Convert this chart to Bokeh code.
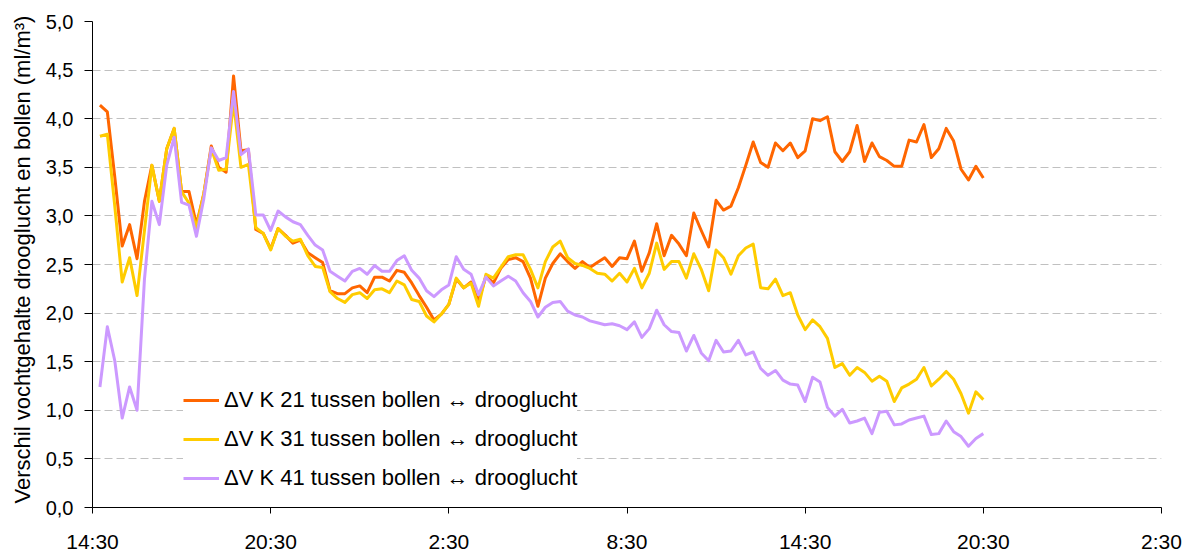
import numpy as np
from bokeh.plotting import figure
from bokeh.models import (FixedTicker, CustomJSTickFormatter, Legend, LegendItem,
                          Title, Range1d)
from bokeh.embed import file_html
from bokeh.resources import INLINE

# ---- data ----------------------------------------------------------------
# samples every 15 minutes, first sample at 14:45 (hours after 14:30)
FIRST_SAMPLE_H = 0.25
STEP_H = 0.25

k21 = [4.14, 4.07, 3.40, 2.69, 2.91, 2.56, 3.15, 3.52, 3.15, 3.69,
       3.90, 3.25, 3.25, 2.91, 3.23, 3.72, 3.50, 3.45, 4.44, 3.67,
       3.68, 2.86, 2.82, 2.66, 2.87, 2.80, 2.72, 2.75, 2.62, 2.57,
       2.52, 2.23, 2.20, 2.20, 2.26, 2.28, 2.21, 2.37, 2.37, 2.33,
       2.44, 2.42, 2.31, 2.18, 2.06, 1.93, 1.99, 2.09, 2.35, 2.26,
       2.32, 2.12, 2.38, 2.31, 2.46, 2.55, 2.57, 2.53, 2.36, 2.07,
       2.36, 2.51, 2.61, 2.53, 2.46, 2.53, 2.47, 2.52, 2.57, 2.48,
       2.57, 2.56, 2.74, 2.43, 2.62, 2.92, 2.59, 2.80, 2.71, 2.59,
       3.03, 2.85, 2.68, 3.16, 3.06, 3.10, 3.29, 3.52, 3.76, 3.55,
       3.50, 3.75, 3.67, 3.75, 3.60, 3.67, 4.00, 3.98, 4.02, 3.66,
       3.56, 3.66, 3.93, 3.56, 3.75, 3.61, 3.57, 3.51, 3.51, 3.78,
       3.76, 3.94, 3.60, 3.69, 3.90, 3.77, 3.48, 3.37, 3.51, 3.39]

k31 = [3.82, 3.84, 3.10, 2.32, 2.57, 2.18, 2.85, 3.52, 3.15, 3.69,
       3.90, 3.25, 3.13, 2.88, 3.23, 3.69, 3.47, 3.48, 4.17, 3.50,
       3.53, 2.88, 2.82, 2.65, 2.87, 2.79, 2.74, 2.76, 2.59, 2.48,
       2.47, 2.22, 2.15, 2.11, 2.19, 2.21, 2.15, 2.24, 2.25, 2.21,
       2.33, 2.29, 2.14, 2.12, 1.97, 1.91, 1.99, 2.09, 2.36, 2.26,
       2.31, 2.07, 2.40, 2.36, 2.47, 2.58, 2.60, 2.60, 2.45, 2.26,
       2.53, 2.68, 2.74, 2.57, 2.51, 2.49, 2.46, 2.41, 2.40, 2.33,
       2.41, 2.32, 2.46, 2.26, 2.41, 2.72, 2.45, 2.53, 2.53, 2.36,
       2.61, 2.45, 2.23, 2.65, 2.57, 2.40, 2.59, 2.67, 2.71, 2.26,
       2.25, 2.35, 2.18, 2.21, 1.98, 1.83, 1.93, 1.86, 1.74, 1.44,
       1.48, 1.36, 1.44, 1.39, 1.30, 1.35, 1.30, 1.09, 1.23, 1.27,
       1.32, 1.44, 1.25, 1.32, 1.40, 1.32, 1.17, 0.97, 1.19, 1.11]

k41 = [1.24, 1.86, 1.51, 0.92, 1.24, 1.00, 2.35, 3.15, 2.91, 3.52,
       3.81, 3.14, 3.11, 2.79, 3.18, 3.70, 3.57, 3.60, 4.28, 3.63,
       3.69, 3.01, 3.01, 2.85, 3.05, 2.99, 2.94, 2.91, 2.80, 2.70,
       2.65, 2.43, 2.38, 2.33, 2.43, 2.46, 2.40, 2.49, 2.43, 2.43,
       2.54, 2.59, 2.44, 2.36, 2.23, 2.17, 2.24, 2.29, 2.58, 2.45,
       2.40, 2.19, 2.37, 2.28, 2.33, 2.38, 2.33, 2.21, 2.12, 1.96,
       2.06, 2.11, 2.12, 2.02, 1.98, 1.96, 1.92, 1.90, 1.88, 1.89,
       1.87, 1.83, 1.91, 1.75, 1.84, 2.03, 1.88, 1.81, 1.80, 1.61,
       1.77, 1.59, 1.51, 1.72, 1.60, 1.61, 1.72, 1.57, 1.60, 1.43,
       1.36, 1.41, 1.31, 1.27, 1.26, 1.09, 1.34, 1.29, 1.03, 0.94,
       1.01, 0.87, 0.89, 0.92, 0.76, 0.98, 0.99, 0.85, 0.86, 0.90,
       0.92, 0.94, 0.75, 0.76, 0.89, 0.78, 0.73, 0.63, 0.71, 0.76]

series_names = ["\u0394V K 21 tussen bollen \u2194 drooglucht",
                "\u0394V K 31 tussen bollen \u2194 drooglucht",
                "\u0394V K 41 tussen bollen \u2194 drooglucht"]
series_colors = ["#FF6600", "#FFCC00", "#CC99FF"]

x_ticks = [0, 6, 12, 18, 24, 30, 36]
x_tick_labels = ["14:30", "20:30", "2:30", "8:30", "14:30", "20:30", "2:30"]
y_ticks = [0.0, 0.5, 1.0, 1.5, 2.0, 2.5, 3.0, 3.5, 4.0, 4.5, 5.0]
y_title = "Verschil vochtgehalte drooglucht en bollen (ml/m\u00b3)"

x = FIRST_SAMPLE_H + STEP_H * np.arange(len(k21))

# ---- figure --------------------------------------------------------------
FONT = "Liberation Sans"
p = figure(width=1190, height=555, output_backend="svg", toolbar_location=None,
           x_range=Range1d(0, 36), y_range=Range1d(0, 5),
           min_border_left=92, min_border_right=29, min_border_top=21,
           min_border_bottom=42)
p.outline_line_color = None
p.background_fill_color = "white"
p.border_fill_color = "white"

renderers = []
for vals, col in zip([k21, k31, k41], series_colors):
    r = p.line(x, vals, line_color=col, line_width=3, line_join="round")
    renderers.append(r)

# grid
p.xgrid.visible = False
p.ygrid.ticker = FixedTicker(ticks=y_ticks)
p.ygrid.grid_line_color = "#c0c0c0"
p.ygrid.grid_line_dash = "8 4"
p.ygrid.grid_line_width = 1

# axes
for ax in (p.xaxis[0], p.yaxis[0]):
    ax.axis_line_color = "black"
    ax.axis_line_width = 1
    ax.major_tick_line_color = "black"
    ax.major_tick_in = 0
    ax.minor_tick_line_color = None
    ax.major_label_text_font = FONT
    ax.major_label_text_color = "black"

p.xaxis.ticker = FixedTicker(ticks=x_ticks)
p.xaxis.major_label_overrides = {t: l for t, l in zip(x_ticks, x_tick_labels)}
p.xaxis.major_label_text_font_size = "21px"
p.xaxis.major_tick_out = 6
p.xaxis.major_label_standoff = 16

p.yaxis.ticker = FixedTicker(ticks=y_ticks)
p.yaxis.formatter = CustomJSTickFormatter(
    code="return tick.toFixed(1).replace('.', ',');")
p.yaxis.major_label_text_font_size = "20px"
p.yaxis.major_tick_out = 8
p.yaxis.major_label_standoff = 11

# y title, start-aligned at the bottom like the reference (clipped at top there too)
ytitle = Title(text=y_title, align="left", offset=4, standoff=15,
               text_font=FONT, text_font_size="22px", text_font_style="normal",
               text_color="black")
p.add_layout(ytitle, "left")

legend = Legend(
    items=[LegendItem(label=n, renderers=[r]) for n, r in zip(series_names, renderers)],
    location=(91, 14), orientation="vertical",
    label_text_font=FONT, label_text_font_size="22px", label_text_color="black",
    glyph_width=36, glyph_height=30, label_height=30, spacing=9,
    padding=4, margin=0, label_standoff=5,
    border_line_color=None, background_fill_color="white", background_fill_alpha=1.0)
p.add_layout(legend)

open("out.html", "w").write(file_html(p, INLINE))
